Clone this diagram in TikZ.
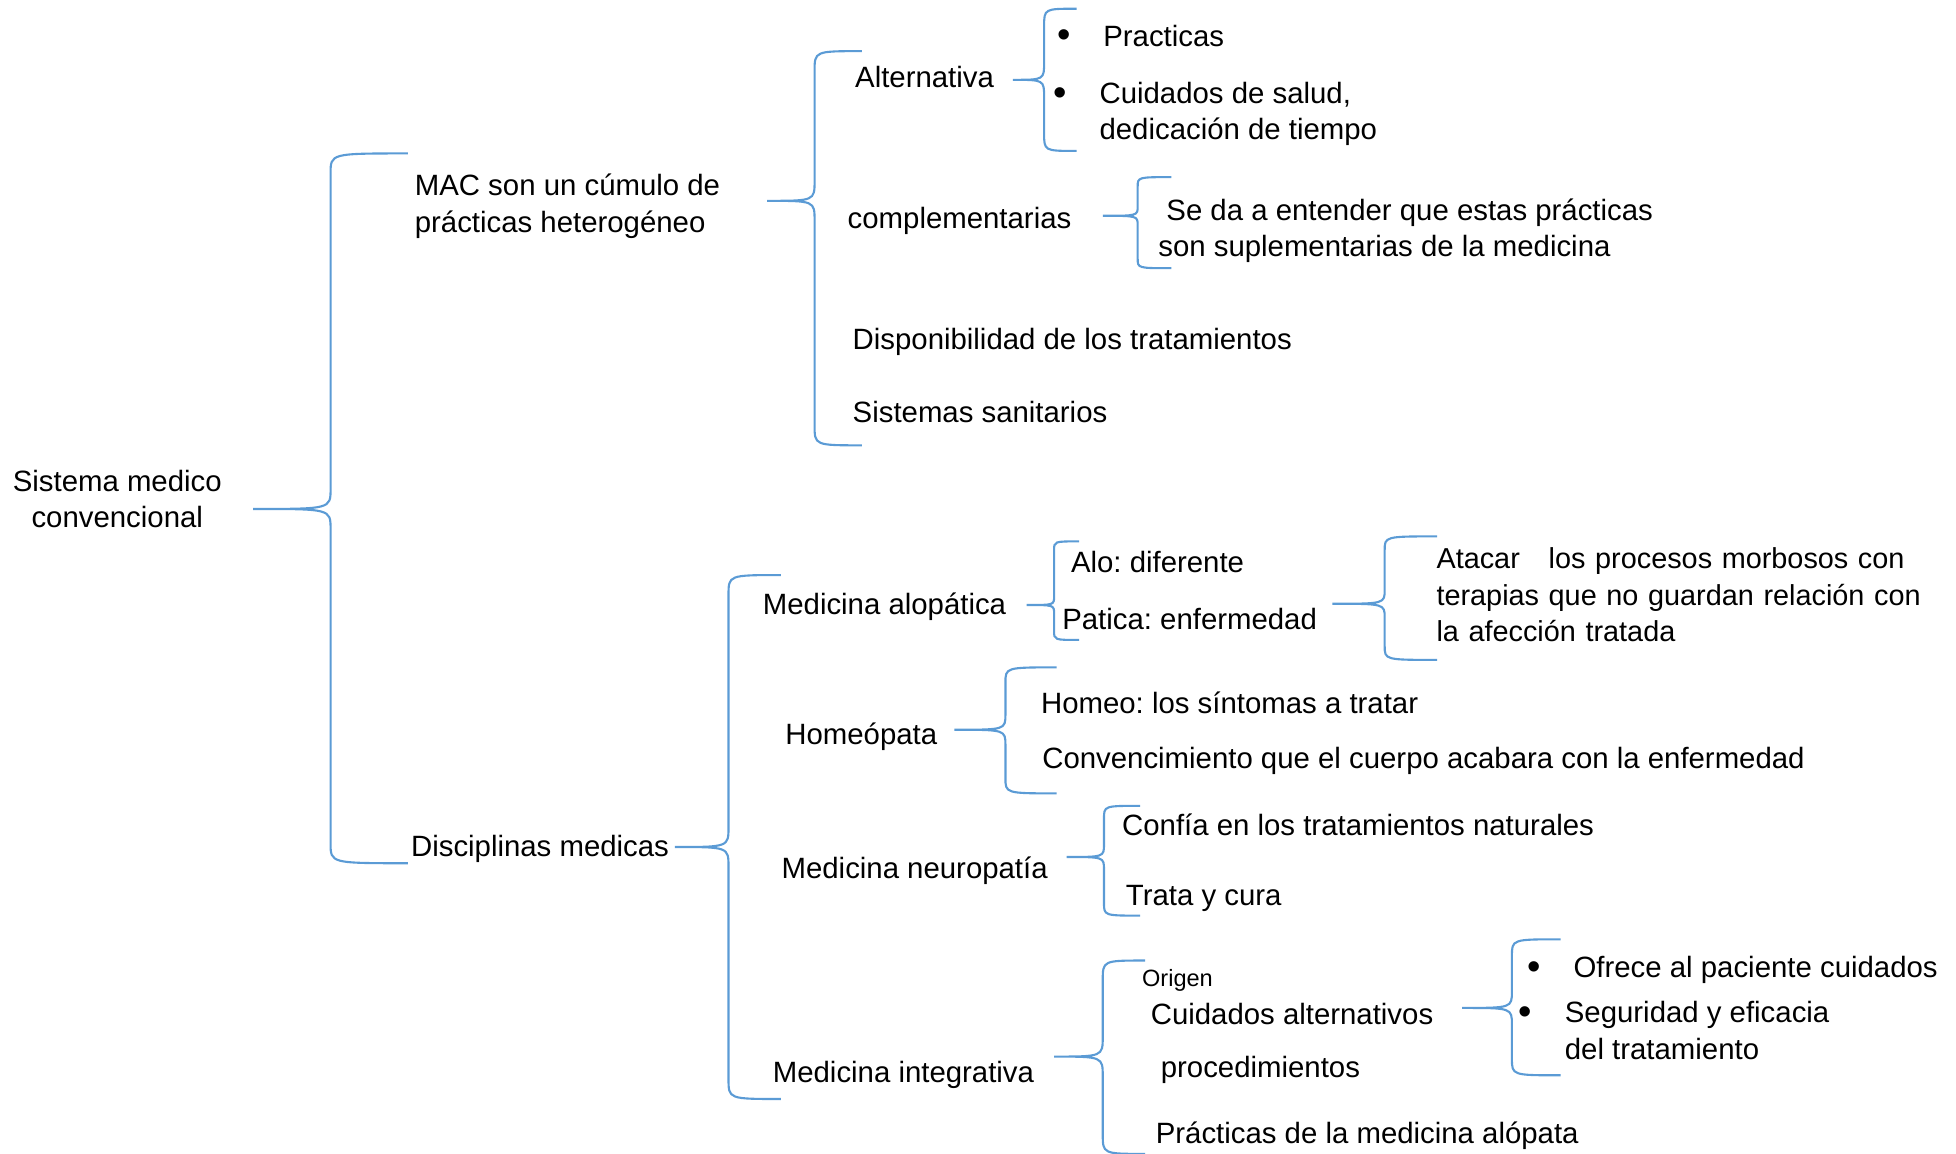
\documentclass[tikz,border=0pt]{standalone}
\usepackage{fontspec}
\setmainfont{Liberation Sans}
\frenchspacing
\definecolor{azul}{HTML}{5B9BD5}
\newcommand{\punto}{\makebox[4.6mm][l]{\raisebox{-0.5pt}{\scalebox{1.3}{•}}}}

\begin{document}
\begin{tikzpicture}[x=0.012474cm,y=-0.012474cm,
    txt/.style={anchor=base west,inner sep=0pt,align=left,font=\fontsize{8.35}{10.3}\selectfont},
    llave/.style={line width=.6pt,azul}]
\useasboundingbox (0,0) rectangle (1568,925);

% llaves: punta x/punta y/vertical x/arriba/abajo/extremo x
\foreach \tx/\ty/\xv/\yt/\yb/\xe in {203/408/265/123/692/327, 615/161/653/41/357/691,
    812/64/837/7/121/863, 884/173/912/142/215/939, 541/679/584/461/881/626,
    823/485/845/434/513/865, 1068/484/1110/430/529/1152, 765/585/806/535/636/847,
    855/687/885/646/734/914, 845/847/884/770/925/918, 1172/808/1212/753/862/1251} {
    \pgfmathsetmacro{\r}{min(16,0.25*(\ty-\yt),0.25*(\yb-\ty))}
    \draw[llave] (\xe,\yt) .. controls (\xv,\yt) .. (\xv,\yt+\r) -- (\xv,\ty-\r)
        .. controls (\xv,\ty) .. (\tx,\ty) .. controls (\xv,\ty) .. (\xv,\ty+\r)
        -- (\xv,\yb-\r) .. controls (\xv,\yb) .. (\xe,\yb);
}

% multilinea: base = ultima linea
\node[txt,anchor=base,align=center] (smc) at (94,423) {Sistema medico\\convencional};

% MAC
\node[txt] (mac) at (332,186) {MAC son un cúmulo de\\prácticas heterogéneo};
\node[txt] (alt) at (685,70) {Alternativa};
\node[txt] (pra1) at (847,37) {\punto Practicas};
\node[txt] (cds) at (844,112) {\punto Cuidados de salud,\\\hspace*{4.6mm}dedicación de tiempo};
\node[txt] (com) at (679,183) {complementarias};
\node[txt] (sup) at (928,206) {\hspace*{2.3pt}Se da a entender que estas prácticas\\son suplementarias de la medicina};
\node[txt] (dis) at (683,280) {Disponibilidad de los tratamientos};
\node[txt] (sis) at (683,339) {Sistemas sanitarios};

% disciplinas
\node[txt] (dsc) at (329,687) {Disciplinas medicas};
\node[txt] (alo) at (611,493) {Medicina alopática};
\node[txt] (ald) at (858,459) {Alo: diferente};
\node[txt] (pat) at (851,505) {Patica: enfermedad};
\node[txt,text width=4.83cm,font=\fontsize{8.2}{10.4}\selectfont] (ata) at (1151,456) {\makebox[\linewidth][s]{Atacar\ \ \ los procesos morbosos con}\\
    \makebox[\linewidth][s]{terapias que no guardan relación con}\\la afección tratada};
\node[txt] (hom) at (629,597) {Homeópata};
\node[txt] (hsi) at (834,572) {Homeo: los síntomas a tratar};
\node[txt] (cvc) at (835,616) {Convencimiento que el cuerpo acabara con la enfermedad};
\node[txt] (neu) at (626,704) {Medicina neuropatía};
\node[txt] (cnf) at (899,670) {Confía en los tratamientos naturales};
\node[txt] (tyc) at (902,726) {Trata y cura};
\node[txt] (itg) at (619,868) {Medicina integrativa};
\node[txt,font=\fontsize{6.7}{8}\selectfont] (ori) at (915,791) {Origen};
\node[txt] (cui) at (922,821) {Cuidados alternativos};
\node[txt] (pro) at (930,864) {procedimientos};
\node[txt] (pma) at (926,917) {Prácticas de la medicina alópata};
\node[txt] (ofr) at (1224,784) {\punto Ofrece al paciente cuidados};
\node[txt] (seg) at (1217,849) {\punto Seguridad y eficacia\\\hspace*{4.6mm}del tratamiento};
\end{tikzpicture}
\end{document}
